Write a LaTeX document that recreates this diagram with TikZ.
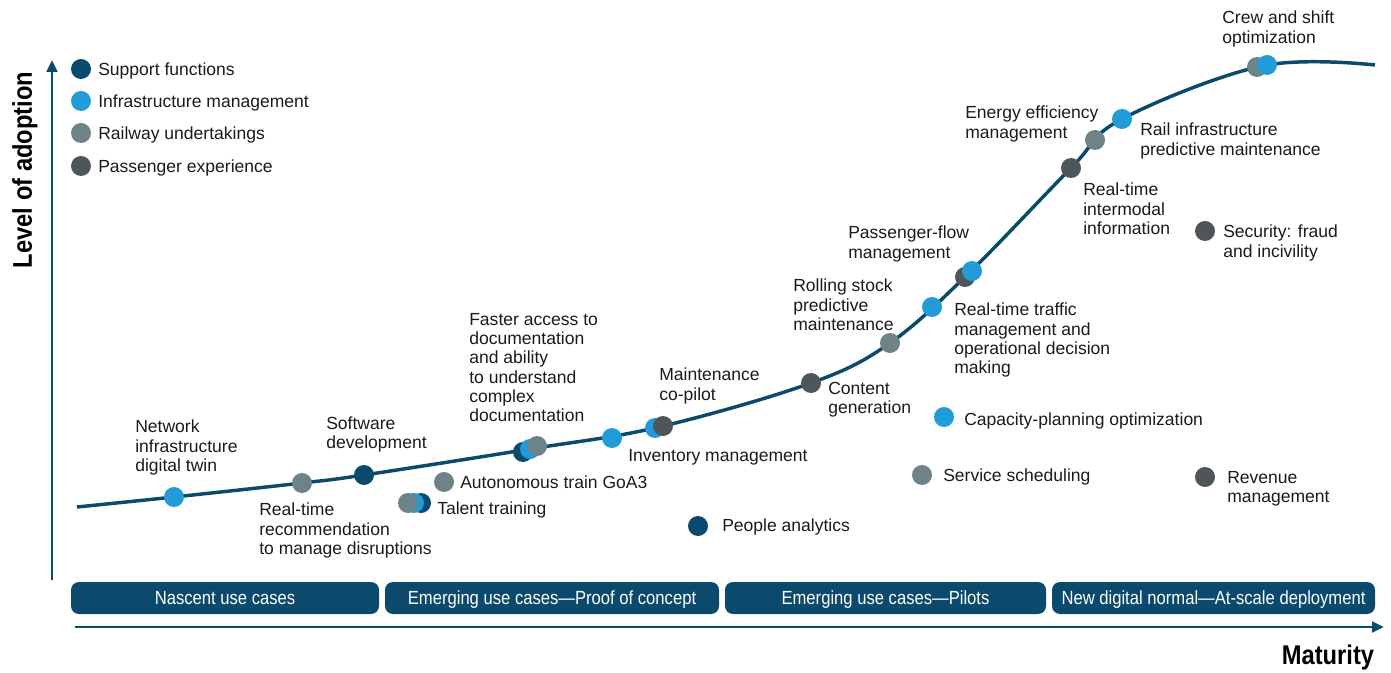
\documentclass[tikz,border=0pt]{standalone}
\usepackage{fontspec}
\setmainfont{Liberation Sans}
\newfontfamily\narrowfont[FakeStretch=0.875]{Liberation Sans}
\usetikzlibrary{arrows.meta}
\definecolor{navy}{HTML}{0B4A6C}
\definecolor{ibl}{HTML}{219CD8}
\definecolor{rgr}{HTML}{6D8388}
\definecolor{pgr}{HTML}{4E5659}
\definecolor{txt}{HTML}{1A1A1A}
\begin{document}
\begin{tikzpicture}[x=0.75pt,y=-0.75pt,
  dot/.style={circle,inner sep=0pt,minimum size=15pt,fill=#1},
  lbl/.style={anchor=north west,inner sep=0pt,align=left,text=txt,font=\fontsize{13.15}{14.5}\selectfont},
  stage/.style={fill=navy,rounded corners=6pt,minimum height=24pt,inner sep=0pt,text=white,text height=10.2pt,text depth=0pt,font=\narrowfont\fontsize{14.25}{16}\selectfont},
  axis/.style={draw=navy,line width=2.2pt,-{Triangle[length=9pt,width=8pt]}},
  curvestyle/.style={draw=navy,line width=2.6pt},
  axlbl/.style={font=\narrowfont\bfseries\fontsize{20.3}{24}\selectfont,text=black,inner sep=0pt}]
\useasboundingbox (0,0) rectangle (1391,673);

% axes
\coordinate (ybot) at (52,580);
\coordinate (ytop) at (52,60);
\coordinate (xleft) at (75,627);
\coordinate (xright) at (1384,627);
\draw[axis] (ybot) -- (ytop);
\draw[axis] (xleft) -- (xright);
\node[axlbl,rotate=90] (ylab) at (25,170) {Level of adoption};
\node[axlbl] (xlab) at (1328,657) {Maturity};

% stages
\node[stage,minimum width=0.75pt*308] (s1) at (225,598) {Nascent use cases};
\node[stage,minimum width=0.75pt*334] (s2) at (552,598) {Emerging use cases—Proof of concept};
\node[stage,minimum width=0.75pt*321] (s3) at (885.5,598) {Emerging use cases—Pilots};
\node[stage,minimum width=0.75pt*323] (s4) at (1213.5,598) {New digital normal—At-scale deployment};

% adoption curve
\draw[curvestyle] plot[smooth,tension=0.6] coordinates {(77,507) (174,497) (302,483) (364,475) (530,449) (659,427) (811,383) (890,343) (968,274) (1071,168) (1122,119) (1262,66) (1375,65)};

% legend
\node[dot=navy] (lg1) at (81,69) {};
\node[dot=ibl] (lg2) at (81,101) {};
\node[dot=rgr] (lg3) at (81,133) {};
\node[dot=pgr] (lg4) at (81,166) {};
\node[lbl] (lt1) at (98,62.7) {Support functions};
\node[lbl] (lt2) at (98,94.7) {Infrastructure management};
\node[lbl] (lt3) at (98,126.7) {Railway undertakings};
\node[lbl] (lt4) at (98,159.7) {Passenger experience};

% dots on curve
\node[dot=ibl] (d1) at (174,497) {};
\node[dot=rgr] (d2) at (302,483) {};
\node[dot=navy] (d3) at (364,475) {};
\node[dot=navy] (d4a) at (523,452) {};
\node[dot=ibl] (d4b) at (530,449) {};
\node[dot=rgr] (d4c) at (537,446) {};
\node[dot=ibl] (d5) at (612,438) {};
\node[dot=ibl] (d6a) at (655,428) {};
\node[dot=pgr] (d6b) at (663,426) {};
\node[dot=pgr] (d7) at (811,383) {};
\node[dot=rgr] (d8) at (890,343) {};
\node[dot=ibl] (d9) at (932,307) {};
\node[dot=pgr] (d10a) at (965,277) {};
\node[dot=ibl] (d10b) at (972,271) {};
\node[dot=pgr] (d11) at (1071,168) {};
\node[dot=rgr] (d12) at (1095,140) {};
\node[dot=ibl] (d13) at (1122,119) {};
\node[dot=rgr] (d14a) at (1257,67) {};
\node[dot=ibl] (d14b) at (1267,65) {};

% dots off curve
\node[dot=rgr] (e1) at (444,482) {};
\node[dot=navy] (e2c) at (421,503) {};
\node[dot=ibl] (e2b) at (414,503) {};
\node[dot=rgr] (e2a) at (408,503) {};
\node[dot=navy] (e3) at (698,526) {};
\node[dot=ibl] (e4) at (944,417) {};
\node[dot=rgr] (e5) at (922,475) {};
\node[dot=pgr] (e6) at (1205,477) {};
\node[dot=pgr] (e7) at (1205,231) {};

% labels
\node[lbl] (t1) at (135,419.7) {Network\\infrastructure\\digital twin};
\node[lbl] (t2) at (259,502.7) {Real-time\\recommendation\\to manage disruptions};
\node[lbl] (t3) at (326,416.7) {Software\\development};
\node[lbl] (t4) at (469,312.7) {Faster access to\\documentation\\and ability\\to understand\\complex\\documentation};
\node[lbl] (t5) at (628,448.7) {Inventory management};
\node[lbl] (t6) at (659,367.7) {Maintenance\\co-pilot};
\node[lbl] (t7) at (828,381.7) {Content\\generation};
\node[lbl] (t8) at (793,278.7) {Rolling stock\\predictive\\maintenance};
\node[lbl] (t9) at (954,302.7) {Real-time traffic\\management and\\operational decision\\making};
\node[lbl] (t10) at (848,225.7) {Passenger-flow\\management};
\node[lbl] (t11) at (1083,182.7) {Real-time\\intermodal\\information};
\node[lbl] (t12) at (965,105.7) {Energy efficiency\\management};
\node[lbl] (t13) at (1140,122.7) {Rail infrastructure\\predictive maintenance};
\node[lbl] (t14) at (1222,10.7) {Crew and shift\\optimization};
\node[lbl] (u1) at (460,475.7) {Autonomous train GoA3};
\node[lbl] (u2) at (437,501.7) {Talent training};
\node[lbl] (u3) at (722,518.7) {People analytics};
\node[lbl] (u4) at (964,412.7) {Capacity-planning optimization};
\node[lbl] (u5) at (943,468.7) {Service scheduling};
\node[lbl] (u6) at (1227,470.7) {Revenue\\management};
\node[lbl] (u7) at (1223,224.7) {Security: fraud\\and incivility};
\end{tikzpicture}
\end{document}
